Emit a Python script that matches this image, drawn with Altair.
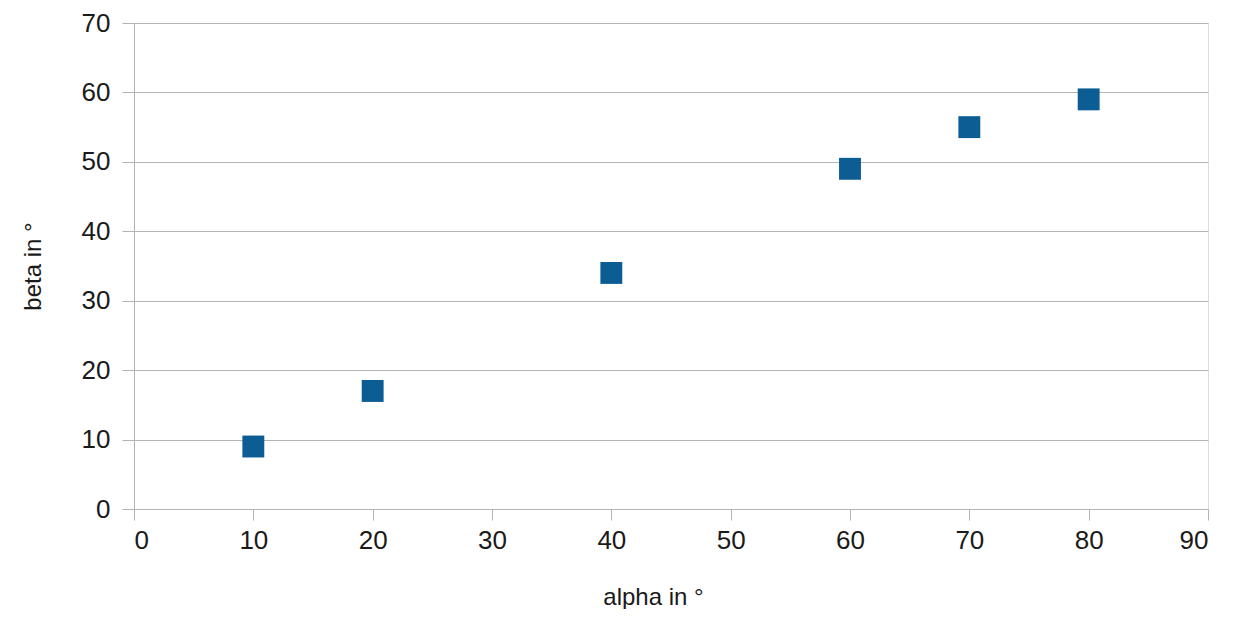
import altair as alt
import pandas as pd

alpha = [10, 20, 40, 60, 70, 80]
beta = [9, 17, 34, 49, 55, 59]

df = pd.DataFrame({"alpha": alpha, "beta": beta})

FONT = "Liberation Sans"

chart = alt.Chart(df).mark_square(size=480, color="#0b5d94", opacity=1).encode(
    x=alt.X("alpha:Q", scale=alt.Scale(domain=[0, 90], nice=False),
            axis=alt.Axis(title="alpha in °", values=list(range(0, 100, 10)), grid=False,
                          tickSize=11, tickColor="#b3b3b3", domainColor="#b3b3b3",
                          labelFontSize=26, labelColor="#1a1a1a", labelFont=FONT, labelPadding=7,
                          titleFont=FONT, titleFontSize=24, titleFontWeight="normal",
                          titleColor="#1a1a1a", titleX=519, titleY=76, titleBaseline="top")),
    y=alt.Y("beta:Q", scale=alt.Scale(domain=[0, 70], nice=False),
            axis=alt.Axis(title="beta in °", values=list(range(0, 80, 10)), grid=True,
                          gridColor="#b3b3b3", gridWidth=1.2,
                          tickSize=12, tickColor="#b3b3b3", domainColor="#b3b3b3",
                          labelFontSize=26, labelColor="#1a1a1a", labelFont=FONT, labelPadding=12,
                          titleFont=FONT, titleFontSize=24, titleFontWeight="normal",
                          titleColor="#1a1a1a", titleX=-89, titleY=243)),
).properties(
    width=1074, height=486,
    autosize=alt.AutoSizeParams(type="none"),
    padding={"left": 126, "top": 15, "right": 10, "bottom": 100},
).configure_view(stroke="#b3b3b3", strokeWidth=1.2).configure(background="white")

chart.save("out.html", embed_options={"renderer": "svg", "actions": False})
